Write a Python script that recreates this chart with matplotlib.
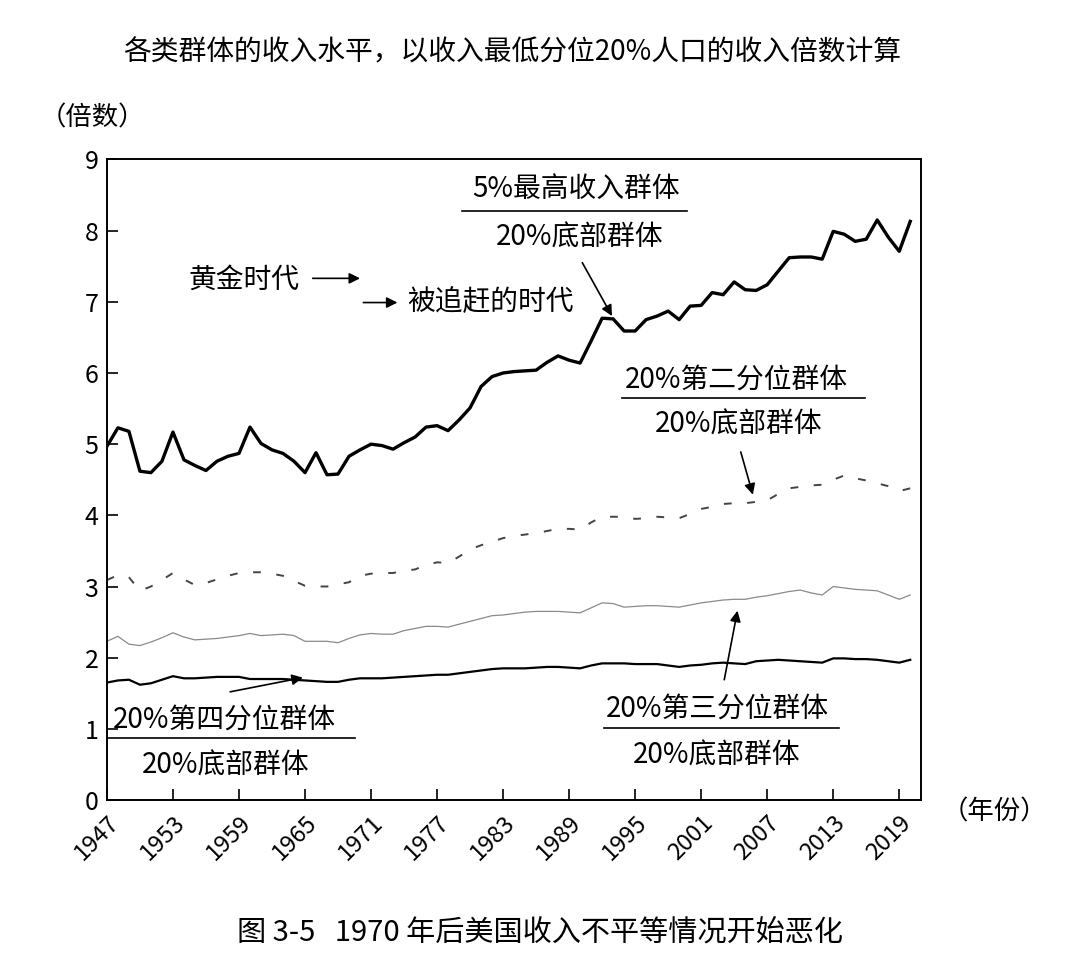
import matplotlib
matplotlib.use("Agg")
import matplotlib.pyplot as plt

plt.rcParams['font.family'] = ['Noto Sans CJK SC', 'DejaVu Sans']

# ------------------------------------------------------------
# Data (multiples of bottom-20% income)
# ------------------------------------------------------------
years = list(range(1947, 2021))

top5 = [4.97, 5.23, 5.18, 4.62, 4.60, 4.76, 5.17, 4.78, 4.70, 4.63,
        4.76, 4.83, 4.87, 5.24, 5.01, 4.92, 4.87, 4.76, 4.60, 4.88,
        4.57, 4.58, 4.83, 4.92, 5.00, 4.98, 4.93, 5.02, 5.10, 5.24,
        5.26, 5.19, 5.34, 5.51, 5.81, 5.95, 6.00, 6.02, 6.03, 6.04,
        6.15, 6.24, 6.18, 6.14, 6.45, 6.77, 6.76, 6.59, 6.59, 6.75,
        6.80, 6.87, 6.75, 6.94, 6.95, 7.13, 7.10, 7.28, 7.17, 7.16,
        7.24, 7.43, 7.62, 7.63, 7.63, 7.60, 7.99, 7.95, 7.85, 7.88,
        8.15, 7.91, 7.71, 8.13]

q2 = [3.09, 3.16, 3.13, 2.94, 3.00, 3.09, 3.19, 3.10, 3.02, 3.05,
      3.10, 3.15, 3.19, 3.20, 3.20, 3.18, 3.15, 3.08, 3.01, 3.00,
      3.00, 3.03, 3.06, 3.15, 3.18, 3.19, 3.19, 3.22, 3.24, 3.30,
      3.34, 3.33, 3.42, 3.52, 3.58, 3.63, 3.68, 3.71, 3.73, 3.75,
      3.78, 3.81, 3.81, 3.80, 3.90, 3.98, 3.98, 3.98, 3.95, 3.96,
      3.98, 3.97, 3.96, 4.02, 4.09, 4.12, 4.16, 4.17, 4.17, 4.19,
      4.21, 4.30, 4.38, 4.40, 4.42, 4.43, 4.50, 4.56, 4.52, 4.49,
      4.45, 4.41, 4.34, 4.38]

q3 = [2.23, 2.30, 2.19, 2.17, 2.22, 2.28, 2.35, 2.29, 2.25, 2.26,
      2.27, 2.29, 2.31, 2.34, 2.31, 2.32, 2.33, 2.31, 2.23, 2.23,
      2.23, 2.21, 2.27, 2.32, 2.34, 2.33, 2.33, 2.38, 2.41, 2.44,
      2.44, 2.43, 2.47, 2.51, 2.55, 2.59, 2.60, 2.62, 2.64, 2.65,
      2.65, 2.65, 2.64, 2.63, 2.70, 2.77, 2.76, 2.71, 2.72, 2.73,
      2.73, 2.72, 2.71, 2.74, 2.77, 2.79, 2.81, 2.82, 2.82, 2.85,
      2.87, 2.90, 2.93, 2.95, 2.91, 2.88, 3.00, 2.98, 2.96, 2.95,
      2.94, 2.88, 2.82, 2.88]

q4 = [1.65, 1.68, 1.69, 1.62, 1.64, 1.69, 1.74, 1.71, 1.71, 1.72,
      1.73, 1.73, 1.73, 1.70, 1.70, 1.70, 1.70, 1.69, 1.68, 1.67,
      1.66, 1.66, 1.69, 1.71, 1.71, 1.71, 1.72, 1.73, 1.74, 1.75,
      1.76, 1.76, 1.78, 1.80, 1.82, 1.84, 1.85, 1.85, 1.85, 1.86,
      1.87, 1.87, 1.86, 1.85, 1.89, 1.92, 1.92, 1.92, 1.91, 1.91,
      1.91, 1.89, 1.87, 1.89, 1.90, 1.92, 1.93, 1.92, 1.91, 1.95,
      1.96, 1.97, 1.96, 1.95, 1.94, 1.93, 1.99, 1.99, 1.98, 1.98,
      1.97, 1.95, 1.93, 1.97]

year_ticks = list(range(1947, 2020, 6))
value_ticks = list(range(0, 10))

# ------------------------------------------------------------
# Figure
# ------------------------------------------------------------
fig = plt.figure(figsize=(10.8, 9.69), dpi=100)
ax = fig.add_axes([0.099, 0.1744, 0.754, 0.661])

ax.plot(years, top5, color='black', lw=2.4)
ax.plot(years, q2, color='#444444', lw=1.4, dashes=(4, 8))
ax.plot(years, q3, color='#8a8a8a', lw=0.9)
ax.plot(years, q4, color='black', lw=1.6)

ax.set_xlim(1947, 2021)
ax.set_ylim(0, 9)
ax.set_xticks(year_ticks)
ax.set_xticklabels([str(y) for y in year_ticks], rotation=45, ha='right',
                   rotation_mode='anchor', fontsize=17)
ax.set_yticks(value_ticks)
ax.set_yticklabels([str(v) for v in value_ticks], fontsize=18)
ax.tick_params(direction='in', length=8, width=1.2, pad=6)
ax.tick_params(axis='x', pad=8)
for sp in ax.spines.values():
    sp.set_linewidth(1.4)

txt = dict(fontsize=20, ha='center', va='center', color='black')
arrow = dict(arrowstyle='-|>', color='black', lw=1.2, mutation_scale=16,
             shrinkA=0, shrinkB=0)

# top 5% / bottom 20%
ax.text(1989.6, 8.58, '5%最高收入群体', **txt)
ax.plot([1979.3, 1999.7], [8.28, 8.28], color='black', lw=1.2)
ax.text(1990.0, 7.90, '20%底部群体', **txt)
ax.annotate('', xy=(1992.9, 6.80), xytext=(1990.2, 7.55), arrowprops=arrow)

# eras
ax.text(1959.5, 7.31, '黄金时代', **txt)
ax.annotate('', xy=(1970.0, 7.33), xytext=(1965.7, 7.33), arrowprops=arrow)
ax.annotate('', xy=(1973.4, 6.99), xytext=(1970.3, 6.99), arrowprops=arrow)
ax.text(1974.3, 6.99, '被追赶的时代', fontsize=20, ha='left', va='center')

# second quintile
ax.text(2004.2, 5.91, '20%第二分位群体', **txt)
ax.plot([1993.8, 2015.9], [5.65, 5.65], color='black', lw=1.2)
ax.text(2004.4, 5.27, '20%底部群体', **txt)
ax.annotate('', xy=(2005.7, 4.29), xytext=(2004.6, 4.89), arrowprops=arrow)

# fourth quintile
ax.text(1957.7, 1.125, '20%第四分位群体', **txt)
ax.plot([1947.0, 1969.5], [0.87, 0.87], color='black', lw=1.2)
ax.text(1957.8, 0.48, '20%底部群体', **txt)
ax.annotate('', xy=(1964.8, 1.72), xytext=(1958.2, 1.52), arrowprops=arrow)

# third quintile
ax.text(2002.5, 1.29, '20%第三分位群体', **txt)
ax.plot([1992.2, 2013.5], [1.01, 1.01], color='black', lw=1.2)
ax.text(2002.4, 0.63, '20%底部群体', **txt)
ax.annotate('', xy=(2004.3, 2.66), xytext=(2003.1, 1.69), arrowprops=arrow)

# titles and axis notes
fig.text(0.474, 1 - 52 / 969, '各类群体的收入水平，以收入最低分位20%人口的收入倍数计算',
         fontsize=20, ha='center', va='center')
fig.text(0.037, 1 - 118 / 969, '（倍数）', fontsize=19, ha='left', va='center')
fig.text(0.872, 1 - 812 / 969, '（年份）', fontsize=19, ha='left', va='center')
fig.text(0.5, 1 - 933 / 969, '图 3-5   1970 年后美国收入不平等情况开始恶化',
         fontsize=21, ha='center', va='center')

fig.savefig('out.png', dpi=100)
